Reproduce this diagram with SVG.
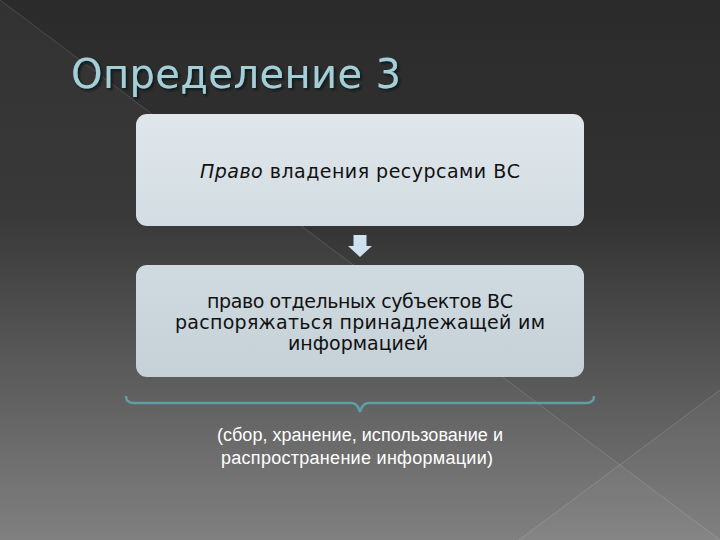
<svg xmlns="http://www.w3.org/2000/svg" width="720" height="540" viewBox="0 0 720 540">
<defs>
<linearGradient id="bg" x1="0" y1="0" x2="0" y2="1">
<stop offset="0" stop-color="#2b2b2b"/>
<stop offset="0.4" stop-color="#323232"/>
<stop offset="1" stop-color="#7c7c7c"/>
</linearGradient>
<linearGradient id="box1" x1="0" y1="0" x2="0" y2="1">
<stop offset="0" stop-color="#e0e7eb"/>
<stop offset="1" stop-color="#d2dce2"/>
</linearGradient>
<linearGradient id="box2" x1="0" y1="0" x2="0" y2="1">
<stop offset="0" stop-color="#d0dbe1"/>
<stop offset="1" stop-color="#c6d1d7"/>
</linearGradient>
<filter id="shadow" x="-5%" y="-20%" width="115%" height="150%">
<feDropShadow dx="2" dy="2" stdDeviation="1" flood-color="#0a1518" flood-opacity="0.9"/>
</filter>
<style>
.box-text{font-family:"DejaVu Sans","Noto Sans",sans-serif;font-size:19px;fill:#111;text-anchor:middle}
.title{font-family:"DejaVu Sans","Noto Sans",sans-serif;font-size:40px;fill:#a4cfd9}
.note{font-family:"Liberation Sans",Arial,sans-serif;font-size:18px;fill:#ffffff;text-anchor:middle}
.deco{stroke:#ffffff;stroke-opacity:0.14;stroke-width:1;fill:none}
</style>
</defs>
<rect width="720" height="540" fill="url(#bg)"/>
<polygon points="0,0 0,540 720,540" fill="#ffffff" fill-opacity="0.035"/>
<polygon points="519,540 720,390 720,540" fill="#ffffff" fill-opacity="0.04"/>
<line class="deco" x1="0" y1="0" x2="720" y2="540"/>
<line class="deco" x1="519" y1="540" x2="720" y2="390"/>

<g id="title">
<text class="title" x="71" y="88" textLength="330" filter="url(#shadow)">Определение 3</text>
</g>

<g id="node1">
<rect x="136" y="114" width="448" height="112" rx="11" fill="url(#box1)"/>
<text class="box-text" x="360" y="178" textLength="320"><tspan font-style="italic">Право</tspan> владения ресурсами ВС</text>
</g>

<g id="connectors">
<polygon points="353.5,235 366.5,235 366.5,246 372,246 360,257 348,246 353.5,246" fill="#cfe0ee"/>
<path d="M126,396 Q126,403 134,403 L352,403 Q358,404 360,412 Q362,404 368,403 L586,403 Q594,403 594,396" fill="none" stroke="#5e9ea6" stroke-width="2.5"/>
</g>

<g id="node2">
<rect x="136" y="265" width="448" height="112" rx="11" fill="url(#box2)"/>
<text class="box-text" x="360" y="308" textLength="306">право отдельных субъектов ВС</text>
<text class="box-text" x="360" y="329" textLength="370">распоряжаться принадлежащей им</text>
<text class="box-text" x="358" y="350">информацией</text>
</g>

<g id="note">
<text class="note" x="360" y="441" textLength="286">(сбор, хранение, использование и</text>
<text class="note" x="357" y="464" textLength="272">распространение информации)</text>
</g>
</svg>
